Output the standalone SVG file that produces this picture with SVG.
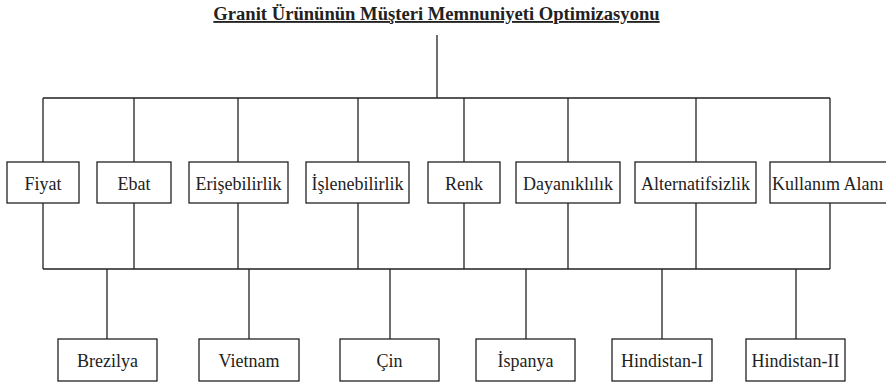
<svg xmlns="http://www.w3.org/2000/svg" width="886" height="383" viewBox="0 0 886 383">
<style>
.box{fill:#fff;stroke:#222;stroke-width:1.3}
.t{font-family:'Liberation Serif','Times New Roman',serif;font-size:18px;fill:#222;text-anchor:middle}
.title{font-family:'Liberation Serif','Times New Roman',serif;font-size:18.6px;font-weight:bold;fill:#222;text-anchor:middle;text-decoration:underline}
.c{stroke:#222;stroke-width:1.3;fill:none}
</style>
<rect width="886" height="383" fill="#fff"/>
<g id="title"><text class="title" x="436.5" y="20">Granit Ürününün Müşteri Memnuniyeti Optimizasyonu</text></g>
<g id="connectors">
<path class="c" d="M437 35V98M43 98H830M43 98V162M134 98V162M238 98V162M358 98V162M464 98V162M568 98V162M696 98V162M830 98V162"/>
<path class="c" d="M43 203V269M134 203V269M238 203V269M358 203V269M464 203V269M568 203V269M696 203V269M830 203V269M43 269H830"/>
<path class="c" d="M107 269V339M249 269V339M390 269V339M526 269V339M662 269V339M796 269V339"/>
</g>
<g id="fiyat"><rect class="box" x="7" y="162" width="72" height="41"/><text class="t" x="43" y="190">Fiyat</text></g>
<g id="ebat"><rect class="box" x="97" y="162" width="74" height="41"/><text class="t" x="134" y="190">Ebat</text></g>
<g id="erisebilirlik"><rect class="box" x="189" y="162" width="99" height="41"/><text class="t" x="238.5" y="190">Erişebilirlik</text></g>
<g id="islenebilirlik"><rect class="box" x="306" y="162" width="103" height="41"/><text class="t" x="357.5" y="190">İşlenebilirlik</text></g>
<g id="renk"><rect class="box" x="428" y="162" width="72" height="41"/><text class="t" x="464" y="190">Renk</text></g>
<g id="dayaniklilik"><rect class="box" x="516" y="162" width="104" height="41"/><text class="t" x="568" y="190">Dayanıklılık</text></g>
<g id="alternatifsizlik"><rect class="box" x="635" y="162" width="121" height="41"/><text class="t" x="695.5" y="190">Alternatifsizlik</text></g>
<g id="kullanim"><rect class="box" x="770" y="162" width="125" height="41"/><text class="t" x="772" y="190" style="text-anchor:start">Kullanım Alanı</text></g>
<g id="brezilya"><rect class="box" x="58" y="339" width="99" height="42"/><text class="t" x="107.5" y="367">Brezilya</text></g>
<g id="vietnam"><rect class="box" x="199" y="339" width="100" height="42"/><text class="t" x="249" y="367">Vietnam</text></g>
<g id="cin"><rect class="box" x="340" y="339" width="99" height="42"/><text class="t" x="389.5" y="367">Çin</text></g>
<g id="ispanya"><rect class="box" x="476" y="339" width="99" height="42"/><text class="t" x="525.5" y="367">İspanya</text></g>
<g id="hindistan1"><rect class="box" x="612" y="339" width="100" height="42"/><text class="t" x="662" y="367">Hindistan-I</text></g>
<g id="hindistan2"><rect class="box" x="746" y="339" width="99" height="42"/><text class="t" x="795.5" y="367">Hindistan-II</text></g>
</svg>
